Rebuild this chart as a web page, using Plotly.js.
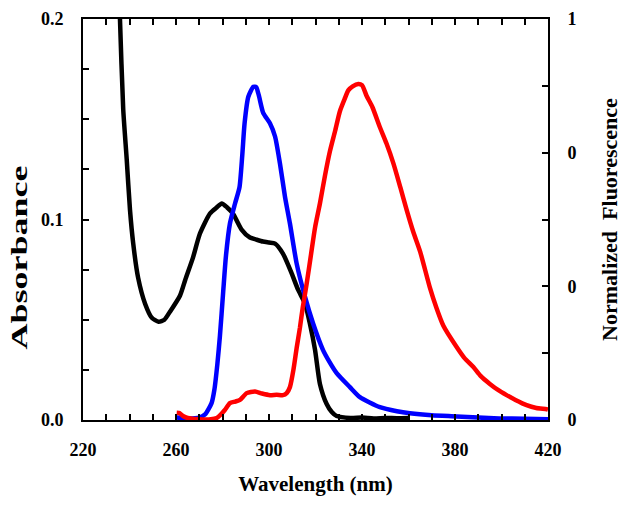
<!DOCTYPE html>
<html>
<head>
<meta charset="utf-8">
<script src="https://cdn.plot.ly/plotly-3.0.1.min.js"></script>
<style>
html,body{margin:0;padding:0;background:#fff;}
#chart{width:629px;height:511px;}
</style>
</head>
<body>
<div id="chart"></div>
<script>
// Absorbance (left axis)
const absWl = [235.2, 235.9, 237.3, 238.8, 240.2, 241.6, 243.7, 246.7, 249.6, 252.5, 255, 257.4, 261.7, 264, 267.3, 270.3, 274.6, 277.5, 279.7, 282, 284.5, 288.2, 291.8, 294.5, 297.4, 300, 302.6, 306, 309.8, 312.5, 315.5, 317.6, 319.8, 321.9, 324.8, 327, 329.1, 335, 340, 345, 350, 355, 360.6];
const absVal = [0.23, 0.200, 0.155, 0.130, 0.105, 0.088, 0.071, 0.058, 0.051, 0.049, 0.050, 0.054, 0.062, 0.070, 0.081, 0.093, 0.103, 0.106, 0.108, 0.106, 0.103, 0.095, 0.091, 0.090, 0.089, 0.0885, 0.088, 0.083, 0.073, 0.065, 0.058, 0.048, 0.035, 0.018, 0.008, 0.004, 0.002, 0.001, 0.0012, 0.0008, 0.001, 0.0009, 0.001];

// Normalized fluorescence, blue (right axis)
const blueWl = [260.3, 265, 270, 272.5, 275.3, 276.5, 277.8, 278.9, 280.3, 281.5, 283.2, 285.4, 287.3, 288.5, 289.5, 291.1, 293.3, 294.5, 295.6, 297.5, 300.4, 302.6, 304.7, 306.9, 309, 311.9, 315.5, 318.9, 323.2, 326, 329.1, 334.8, 339.1, 347.7, 355, 360.6, 370, 380.7, 390, 399, 410, 420];
const blueVal = [0.006, 0.004, 0.006, 0.014, 0.042, 0.075, 0.14, 0.21, 0.32, 0.41, 0.49, 0.54, 0.58, 0.66, 0.74, 0.806, 0.831, 0.83, 0.81, 0.766, 0.74, 0.707, 0.64, 0.556, 0.49, 0.39, 0.307, 0.242, 0.175, 0.145, 0.117, 0.082, 0.057, 0.032, 0.022, 0.017, 0.012, 0.009, 0.006, 0.004, 0.003, 0.002];

// Normalized fluorescence, red (right axis)
const redWl = [260.3, 261.5, 263, 265, 270, 275, 277.5, 279, 281, 283.2, 285.5, 287.5, 290.4, 294, 297, 300.4, 303.3, 306, 307.6, 309, 310.5, 311.9, 313.3, 314.5, 316.2, 318, 319.8, 321.9, 324.1, 326.2, 328.4, 330.5, 332.5, 334.1, 336, 338.4, 340, 342, 344.5, 347.7, 350.5, 353.5, 356.5, 359.2, 362, 365, 369.2, 372, 375, 380.7, 384, 387.9, 391, 395, 398.5, 402.2, 406, 410.8, 415, 419.4, 420];
const redVal = [0.018, 0.017, 0.01, 0.005, 0.002, 0.002, 0.005, 0.012, 0.025, 0.042, 0.046, 0.05, 0.067, 0.071, 0.066, 0.062, 0.063, 0.062, 0.067, 0.082, 0.125, 0.18, 0.23, 0.28, 0.34, 0.41, 0.48, 0.54, 0.61, 0.67, 0.72, 0.77, 0.80, 0.822, 0.832, 0.838, 0.835, 0.808, 0.78, 0.73, 0.69, 0.64, 0.58, 0.524, 0.47, 0.42, 0.33, 0.28, 0.235, 0.182, 0.155, 0.132, 0.11, 0.09, 0.075, 0.062, 0.05, 0.037, 0.03, 0.027, 0.026];

// Tick positions and labels
const xTickVals = [220, 230, 240, 250, 260, 270, 280, 290, 300, 310, 320, 330, 340, 350, 360, 370, 380, 390, 400, 410, 420];
const xTickText = ['220', '', '', '', '260', '', '', '', '300', '', '', '', '340', '', '', '', '380', '', '', '', '420'];
const yTickVals = [0, 0.025, 0.05, 0.075, 0.1, 0.125, 0.15, 0.175, 0.2];
const yTickText = ['0.0', '', '', '', '0.1', '', '', '', '0.2'];
const y2TickVals = [0, 1/6, 2/6, 3/6, 4/6, 5/6, 1];
const y2TickText = ['0', '', '0', '', '0', '', '1'];

const bold = arr => arr.map(t => t ? '<b>' + t + '</b>' : '');

const fontFam = '"Liberation Serif", "Times New Roman", serif';
const tickFont = {family: fontFam, size: 18, color: '#000'};
const titleFont = {family: fontFam, size: 21, color: '#000'};

const lineOpts = (c) => ({color: c, width: 4.5, shape: 'spline', smoothing: 0.6});

const traces = [
  {x: absWl, y: absVal, type: 'scatter', mode: 'lines', line: lineOpts('#000000'), yaxis: 'y', showlegend: false},
  {x: blueWl, y: blueVal, type: 'scatter', mode: 'lines', line: lineOpts('#0000ff'), yaxis: 'y2', showlegend: false},
  {x: redWl, y: redVal, type: 'scatter', mode: 'lines', line: lineOpts('#ff0000'), yaxis: 'y2', showlegend: false}
];

const layout = {
  width: 629, height: 511,
  margin: {l: 83, r: 81, t: 19, b: 91},
  paper_bgcolor: '#fff', plot_bgcolor: '#fff',
  xaxis: {
    range: [220, 420], showgrid: false, zeroline: false,
    showline: true, linecolor: '#000', linewidth: 2, mirror: 'ticks',
    ticks: 'inside', ticklen: 6, tickwidth: 2, tickcolor: '#000',
    tickmode: 'array', tickvals: xTickVals, ticktext: bold(xTickText),
    tickfont: tickFont, ticklabelstandoff: 12,
    title: {text: '<b>Wavelength (nm)</b>', font: titleFont, standoff: 18}
  },
  yaxis: {
    range: [0, 0.2], showgrid: false, zeroline: false,
    showline: true, linecolor: '#000', linewidth: 2,
    ticks: 'inside', ticklen: 6, tickwidth: 2, tickcolor: '#000',
    tickmode: 'array', tickvals: yTickVals, ticktext: bold(yTickText),
    tickfont: tickFont, ticklabelstandoff: 14,
    title: {text: '<b>Absorbance</b>', font: {family: fontFam, size: 24, color: '#000'}, standoff: 12}
  },
  yaxis2: {
    range: [0, 1], overlaying: 'y', side: 'right', showgrid: false, zeroline: false,
    showline: true, linecolor: '#000', linewidth: 2,
    ticks: 'inside', ticklen: 6, tickwidth: 2, tickcolor: '#000',
    tickmode: 'array', tickvals: y2TickVals, ticktext: bold(y2TickText),
    tickfont: tickFont, ticklabelstandoff: 14,
    title: {text: '<b>Normalized  Fluorescence</b>', font: {family: fontFam, size: 22, color: '#000'}, standoff: 26}
  }
};

Plotly.newPlot('chart', traces, layout, {staticPlot: true, displayModeBar: false}).then(gd => {
  // The reference's left title is drawn stretched along its reading direction and sits lower.
  const t = gd.querySelector('.ytitle');
  if (t) {
    const x = parseFloat(t.getAttribute('x'));
    const y = parseFloat(t.getAttribute('y'));
    const tr = t.getAttribute('transform') || '';
    t.setAttribute('transform', 'translate(6,38) ' + tr + ' translate(' + x + ',' + y + ') scale(1.5,1) translate(' + (-x) + ',' + (-y) + ')');
  }
});
</script>
</body>
</html>
